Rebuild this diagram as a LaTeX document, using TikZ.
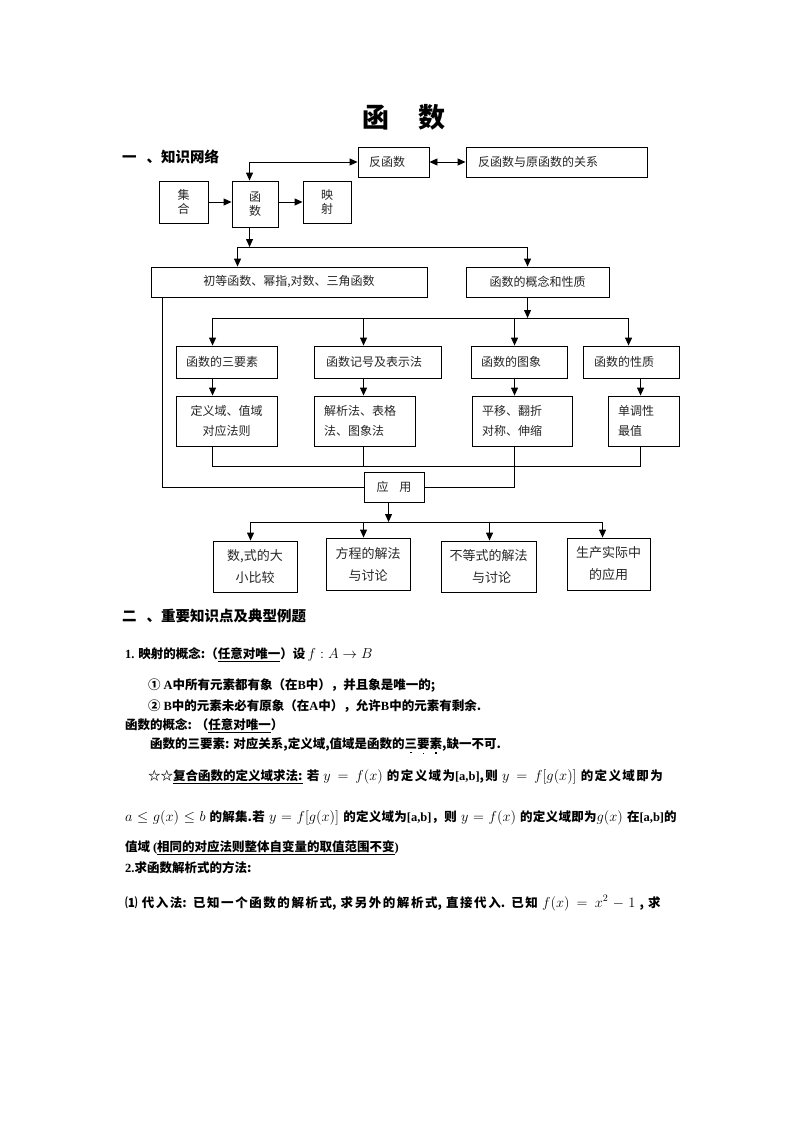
\documentclass[tikz,border=0pt]{standalone}
\usepackage{fontspec}
\setmainfont{Noto Sans CJK SC}
\newfontfamily\tnr{Liberation Serif}
\usetikzlibrary{arrows.meta,calc}
\XeTeXlinebreaklocale "zh"
\XeTeXlinebreakskip=0pt plus 2pt minus 0.3pt
\newcommand{\zd}[1]{\vtop{\baselineskip0pt\lineskip0pt\lineskiplimit0pt\ialign{\hfil##\hfil\cr#1\cr\noalign{\kern2.5pt}\rule{1.6pt}{1.6pt}\cr}}}
\newcommand{\lat}[1]{{\tnr\bfseries #1}}
\newcommand{\mth}[1]{{\fontsize{14.5}{15}\selectfont$#1$}}
\tikzset{
 box/.style={draw, line width=0.9pt, inner ysep=0pt, font=\fontsize{12}{20}\selectfont, text=black!85},
 cbox/.style={box, inner xsep=0pt, align=center},
 arr/.style={line width=0.9pt, -{Triangle[length=8pt,width=7pt]}},
 dar/.style={line width=0.9pt, {Triangle[length=8pt,width=7pt]}-{Triangle[length=8pt,width=7pt]}},
 ln/.style={line width=0.9pt},
 txt/.style={anchor=west, inner sep=0pt, font=\fontsize{12.5}{15}\selectfont\bfseries},
 head/.style={anchor=west, inner sep=0pt, font=\fontsize{14.5}{16}\selectfont\bfseries},
}
\begin{document}
\begin{tikzpicture}[x=1pt,y=-1pt]
\fill[white] (0,0) rectangle (793,1122);
\useasboundingbox (0,0) rectangle (793,1122);

% title and headings
\node[inner sep=0pt, font=\fontsize{27}{30}\selectfont\bfseries] (title) at (404,117) {函\hspace{29pt}数};
\node[head] (h1) at (122,157) {一\hspace{10pt}、知识网络};

% top row
\node[cbox, minimum width=49, minimum height=42, font=\fontsize{12}{14}\selectfont] (jihe) at (183.5,202) {集\\合};
\node[cbox, minimum width=46, minimum height=46, font=\fontsize{12}{14}\selectfont] (hanshu) at (255,204) {函\\数};
\node[cbox, minimum width=48, minimum height=42, font=\fontsize{12}{14}\selectfont] (yingshe) at (327,202) {映\\射};
\node[box, minimum height=30, text width=49, inner xsep=11, align=left] (fan) at (393.5,162) {反函数};
\node[box, minimum height=30, text width=157, inner xsep=12, align=left] (rel) at (556.5,162) {反函数与原函数的关系};

\draw[arr] (jihe.east) -- (jihe.east -| hanshu.west);
\draw[arr] (yingshe.west -| hanshu.east) -- (yingshe.west);
\draw[dar] ([xshift=18pt]hanshu.north west) |- (fan.west);
\draw[dar] (fan.east) -- (rel.west);

% second level
\node[cbox, minimum width=276, minimum height=30] (chudeng) at (289,282) {初等函数、幂指,对数、三角函数};
\node[cbox, minimum width=143, minimum height=30] (gainian) at (537.5,282) {函数的概念和性质};
\coordinate (bus1) at (0,247);
\coordinate (hs) at ([xshift=18pt]hanshu.south west);
\coordinate (c1) at ([xshift=87pt]chudeng.north west);
\coordinate (g1) at ([xshift=62pt]gainian.north west);
\draw[arr] (hs) -- (hs |- bus1);
\draw[ln] (c1 |- bus1) -- (g1 |- bus1);
\draw[arr] (c1 |- bus1) -- (c1);
\draw[arr] (g1 |- bus1) -- (g1);

% third level
\node[box, minimum height=32, text width=81, inner xsep=10, align=left] (sanyao) at (226.5,362) {函数的三要素};
\node[box, minimum height=32, text width=103, inner xsep=12, align=left] (jihao) at (377.5,362) {函数记号及表示法};
\node[box, minimum height=32, text width=76, inner xsep=10, align=left] (tuxiang) at (519,362) {函数的图象};
\node[box, minimum height=32, text width=74, inner xsep=11, align=left] (xingzhi) at (631,362) {函数的性质};
\coordinate (bus2) at (0,318);
\coordinate (g2) at ([xshift=62pt]gainian.south west);
\coordinate (s1) at ([xshift=37pt]sanyao.north west);
\coordinate (j1) at ([xshift=50pt]jihao.north west);
\coordinate (t1) at ([xshift=44pt]tuxiang.north west);
\coordinate (x1) at ([xshift=46pt]xingzhi.north west);
\draw[arr] (g2) -- (g2 |- bus2);
\draw[ln] (s1 |- bus2) -- (x1 |- bus2);
\draw[arr] (s1 |- bus2) -- (s1);
\draw[arr] (j1 |- bus2) -- (j1);
\draw[arr] (t1 |- bus2) -- (t1);
\draw[arr] (x1 |- bus2) -- (x1);

% fourth level
\node[cbox, minimum width=101, minimum height=50] (dingyi) at (226.5,421) {定义域、值域\\对应法则};
\node[box, minimum height=50, text width=81, inner xsep=10, align=left] (jiexi) at (364.5,421) {解析法、表格\\法、图象法};
\node[box, minimum height=50, text width=80, inner xsep=10, align=left] (pingyi) at (522,421) {平移、翻折\\对称、伸缩};
\node[box, minimum height=50, text width=51, inner xsep=10, align=left] (dandiao) at (643.5,421) {单调性\\最值};
\draw[arr] ([xshift=37pt]sanyao.south west) -- ([xshift=37pt]dingyi.north west);
\draw[arr] ([xshift=50pt]jihao.south west) -- ([xshift=50pt]jiexi.north west);
\draw[arr] ([xshift=44pt]tuxiang.south west) -- ([xshift=43pt]pingyi.north west);
\draw[arr] ([xshift=58pt]xingzhi.south west) -- ([xshift=33pt]dandiao.north west);

% application
\node[cbox, minimum width=60, minimum height=30] (yingyong) at (394,487) {应\hspace{11pt}用};
\coordinate (bus3) at (0,466);
\coordinate (d2) at ([xshift=37pt]dingyi.south west);
\coordinate (e2) at ([xshift=50pt]jiexi.south west);
\coordinate (p2) at ([xshift=43pt]pingyi.south west);
\coordinate (u2) at ([xshift=33pt]dandiao.south west);
\coordinate (c2) at ([xshift=12pt]chudeng.south west);
\draw[ln] (d2) |- (u2 |- bus3) -- (u2);
\draw[ln] (e2) -- (e2 |- bus3);
\draw[ln] (p2) |- (yingyong.east);
\draw[ln] (c2) |- (yingyong.west);

% bottom row
\node[cbox, minimum width=84, minimum height=51, font=\fontsize{13}{22}\selectfont] (bx1) at (255,566.5) {数,式的大\\小比较};
\node[cbox, minimum width=84, minimum height=52, font=\fontsize{13}{22}\selectfont] (bx2) at (368,564) {方程的解法\\与讨论};
\node[cbox, minimum width=95, minimum height=51, font=\fontsize{13}{22}\selectfont] (bx3) at (488.5,566.5) {不等式的解法\\\hspace{6pt}与讨论};
\node[cbox, minimum width=83, minimum height=52, font=\fontsize{13}{22}\selectfont] (bx4) at (608.5,564) {生产实际中\\的应用};
\coordinate (bus4) at (0,522);
\coordinate (y2) at ([xshift=25pt]yingyong.south west);
\coordinate (k1) at ([xshift=38pt]bx1.north west);
\coordinate (k2) at ([xshift=38pt]bx2.north west);
\coordinate (k3) at ([xshift=49pt]bx3.north west);
\coordinate (k4) at ([xshift=36pt]bx4.north west);
\draw[arr] (y2) -- (y2 |- bus4);
\draw[ln] (k1 |- bus4) -- (k4 |- bus4);
\draw[arr] (k1 |- bus4) -- (k1);
\draw[arr] (k2 |- bus4) -- (k2);
\draw[arr] (k3 |- bus4) -- (k3);
\draw[arr] (k4 |- bus4) -- (k4);

% text section
\node[head] (h2) at (122,616) {二\hspace{10pt}、重要知识点及典型例题};
\node[txt] (l1) at (125,655) {\lat{1.} 映射的概念:（\underline{任意对唯一}）设\mth{\,f:A\to B}};
\node[txt] (l2) at (148,686) {① \lat{A}中所有元素都有象（在\lat{B}中），并且象是唯一的;};
\node[txt] (l3) at (148,706) {② \lat{B}中的元素未必有原象（在\lat{A}中），允许\lat{B}中的元素有剩余.};
\node[txt] (l4) at (125,726) {函数的概念: （\underline{任意对唯一}）};
\node[txt] (l5) at (150,746) {函数的三要素: 对应关系,定义域,值域是函数的\zd{三}\zd{要}\zd{素},缺一不可.};
\node[txt, text width=532] (l6) at (148,777) {\noindent\parfillskip=0pt ☆☆\underline{复合函数的定义域求法:} 若 \mth{y=f(x)} 的定义域为\lat{[a,b]},则 \mth{y=f[g(x)]} 的定义域即为\par};
\node[txt, text width=555] (l7) at (125,818) {\noindent\parfillskip=0pt \mth{a\le g(x)\le b} 的解集.若 \mth{y=f[g(x)]} 的定义域为\lat{[a,b]}，则 \mth{y=f(x)} 的定义域即为\mth{g(x)} 在\lat{[a,b]}的\par};
\node[txt] (l8) at (125,848) {值域 \lat{(}\underline{相同的对应法则整体自变量的取值范围不变}\lat{)}};
\node[txt] (l9) at (125,868) {\lat{2.}求函数解析式的方法:};
\node[txt, text width=555] (l10) at (125,903) {\noindent\parfillskip=0pt ⑴ 代入法: 已知一个函数的解析式, 求另外的解析式, 直接代入. 已知 \mth{f(x)=x^2-1} , 求\par};
\end{tikzpicture}
\end{document}
